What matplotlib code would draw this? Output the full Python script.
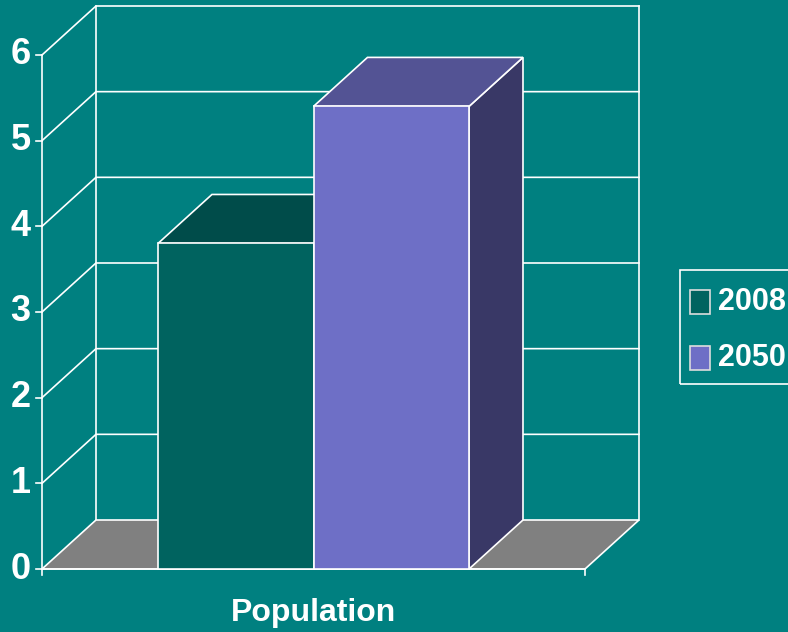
import matplotlib.pyplot as plt
from matplotlib.patches import Polygon, Rectangle

# chart data
categories = ['Population']
series = ['2008', '2050']
values = [3.8, 5.4]
yticks = [0, 1, 2, 3, 4, 5, 6]

bg = '#008080'
front_colors = ['#00635F', '#6E6FC6']
top_colors = ['#004C4A', '#535394']
side_colors = ['#003A38', '#393866']
floor_color = '#808080'
edge = 'white'
lw = 1.2

FONT = ['Liberation Sans', 'DejaVu Sans']

fig = plt.figure(figsize=(7.88, 6.32), dpi=100)
fig.patch.set_facecolor(bg)
ax = fig.add_axes([0, 0, 1, 1])
ax.set_facecolor(bg)
ax.set_xlim(-0.07735, 1.37385)
ax.set_ylim(-0.7354, 6.642)
ax.axis('off')

# oblique depth offset (x in category units, y in value units)
DX, DY = 0.0994, 0.572
ymax = yticks[-1]


def poly(pts, fc, z):
    ax.add_patch(Polygon(pts, closed=True, facecolor=fc, edgecolor=edge,
                         linewidth=lw, joinstyle='miter', zorder=z))


# back wall and left wall gridlines
for v in yticks[1:]:
    ax.plot([0, DX, 1 + DX], [v, v + DY, v + DY], color=edge, lw=lw, zorder=1)
ax.plot([DX, DX], [DY, ymax + DY], color=edge, lw=lw, zorder=1)
ax.plot([1 + DX, 1 + DX], [DY, ymax + DY], color=edge, lw=lw, zorder=1)

# floor
poly([(0, 0), (1, 0), (1 + DX, DY), (DX, DY)], floor_color, 2)

# front axis with ticks
ax.plot([0, 0], [0, ymax], color=edge, lw=lw, zorder=3)
for v in yticks:
    ax.plot([-0.011, 0], [v, v], color=edge, lw=lw, zorder=3)
    ax.text(-0.021, v, str(v), color='white', fontsize=26, fontweight='bold',
            family=FONT, ha='right', va='center')
ax.plot([0, 1], [0, 0], color=edge, lw=lw, zorder=3)
for x in (0, 1):
    ax.plot([x, x], [0, -0.075], color=edge, lw=lw, zorder=3)

# bars
gap = 0.2136
width = (1 - 2 * gap) / len(values)
for i, v in enumerate(values):
    x0 = gap + i * width
    x1 = x0 + width
    z = 4 + i
    poly([(x1, 0), (x1 + DX, DY), (x1 + DX, v + DY), (x1, v)], side_colors[i], z)
    poly([(x0, v), (x1, v), (x1 + DX, v + DY), (x0 + DX, v + DY)], top_colors[i], z)
    poly([(x0, 0), (x1, 0), (x1, v), (x0, v)], front_colors[i], z)

ax.text(0.5, -0.51, categories[0], color='white', fontsize=23, fontweight='bold',
        family=FONT, ha='center', va='center')

# legend
W, H = 788, 632


def fx(px):
    return px / W


def fy(py):
    return 1 - py / H


fig.patches.append(Rectangle((fx(680), fy(384)), fx(140), (384 - 270) / H,
                             transform=fig.transFigure, facecolor='none',
                             edgecolor=edge, linewidth=lw))
for i, (name, yc) in enumerate(zip(series, (302, 358))):
    fig.patches.append(Rectangle((fx(690), fy(yc + 12)), fx(20), 24 / H,
                                 transform=fig.transFigure,
                                 facecolor=front_colors[i], edgecolor='#dddddd',
                                 linewidth=lw))
    fig.text(fx(718), fy(yc), name, color='white', fontsize=22, fontweight='bold',
             family=FONT, ha='left', va='center')

fig.savefig('out.png', dpi=100, facecolor=bg)
